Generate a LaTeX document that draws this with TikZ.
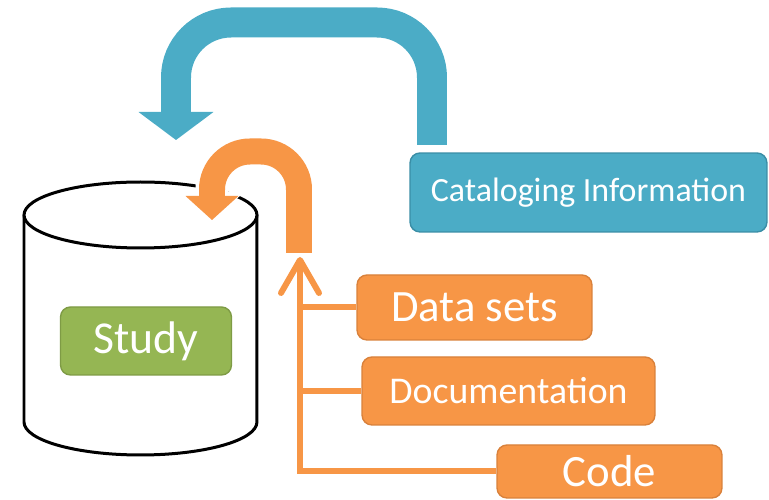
\documentclass[tikz,border=0pt]{standalone}
\usepackage{fontspec}
\setmainfont{Carlito}
\usetikzlibrary{arrows.meta, positioning}
\definecolor{catblue}{HTML}{4BACC6}
\definecolor{catblueline}{HTML}{3A8EA6}
\definecolor{feedorange}{HTML}{F79646}
\definecolor{feedorangeline}{HTML}{D9813B}
\definecolor{studygreen}{HTML}{95B653}
\definecolor{studygreenline}{HTML}{7E9B45}
\tikzstyle{block} = [rectangle, draw, line width=0.8pt, rounded corners=0.2cm, inner sep=0pt, text=white]
\tikzstyle{item} = [block, fill=feedorange, draw=feedorangeline, font=\fontsize{25.5}{30}\selectfont]
\tikzstyle{db} = [draw=black, fill=white, line width=0.06cm]
\tikzstyle{feed} = [draw=feedorange, line width=0.12cm]
\tikzstyle{bigarrow} = [draw=catblue, line width=0.6cm, rounded corners=1.1cm, -{Triangle[width=1.5cm, length=0.56cm, line width=0pt]}]
\tikzstyle{uarrow} = [draw=feedorange, line width=0.52cm, rounded corners=0.76cm, -{Triangle[width=1.06cm, length=0.48cm, line width=0pt]}, preaction={draw=white, line width=0.66cm, -{Triangle[width=1.3cm, length=0.56cm, line width=0pt]}}]

\begin{document}
\begin{tikzpicture}[x=0.02cm, y=0.02cm]
  \useasboundingbox (0,0) rectangle (769,500);

  % Cilindro de la base de datos
  \draw[db] (24,285) -- (24,78) arc[start angle=180, end angle=360, x radius=2.33cm, y radius=0.66cm] -- (257,285);
  \draw[db] (140.5,285) ellipse [x radius=2.33cm, y radius=0.66cm];
  \node (study) [block, fill=studygreen, draw=studygreenline, minimum width=3.42cm, minimum height=1.36cm, font=\fontsize{26}{30}\selectfont] at (146,159) {Study};

  % Bloques de entrada
  \node (catalog) [block, fill=catblue, draw=catblueline, minimum width=7.14cm, minimum height=1.58cm, font=\fontsize{19.3}{23}\selectfont] at (588.5,307.5) {Cataloging Information};
  \node (datasets) [item, minimum width=4.7cm, minimum height=1.3cm] at (474.5,192.5) {Data sets};
  \node (docs) [item, minimum width=5.86cm, minimum height=1.36cm, font=\fontsize{21.5}{26}\selectfont] at (508.5,109) {Documentation};
  \node (code) [item, minimum width=4.5cm, minimum height=1.06cm] at (609.5,28.5) {Code};

  % Puntos de las flechas
  \coordinate (catOut) at (432,355);
  \coordinate (catTop) at (0,477.5);
  \coordinate (dbIn) at (176,360);
  \coordinate (feedTop) at (300,243);
  \coordinate (feedOut) at (299,247);
  \coordinate (uTop) at (0,348.5);
  \coordinate (studyIn) at (212,280);

  % Flechas grandes
  \draw[bigarrow] (catOut) -- (catOut |- catTop) -- (dbIn |- catTop) -- (dbIn);
  \draw[uarrow] (feedOut) -- (feedOut |- uTop) -- (studyIn |- uTop) -- (studyIn);

  % Lineas de los bloques naranjas
  \draw[feed, -{Straight Barb[round, length=0.66cm, width=0.76cm]}] (code.west) -| (feedTop);
  \draw[feed] (datasets.west) -- (datasets.west -| feedTop);
  \draw[feed] (docs.west) -- (docs.west -| feedTop);

\end{tikzpicture}
\end{document}
